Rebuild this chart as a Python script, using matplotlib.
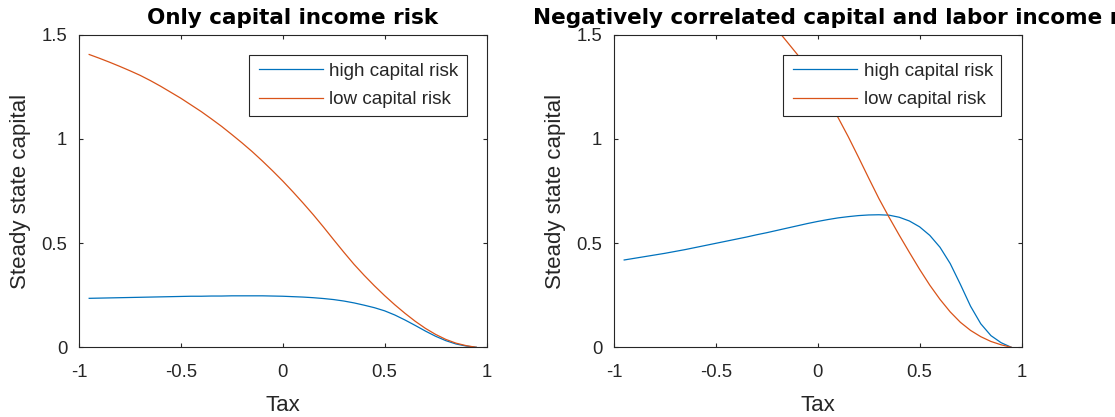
import matplotlib
matplotlib.use("Agg")
import matplotlib.pyplot as plt
from matplotlib.legend_handler import HandlerLine2D
from matplotlib.lines import Line2D

# Tax rate grid shared by every series
tax = [-0.95, -0.90, -0.85, -0.80, -0.75, -0.70, -0.65, -0.60, -0.55, -0.50,
       -0.45, -0.40, -0.35, -0.30, -0.25, -0.20, -0.15, -0.10, -0.05, 0.00,
       0.05, 0.10, 0.15, 0.20, 0.25, 0.30, 0.35, 0.40, 0.45, 0.50,
       0.55, 0.60, 0.65, 0.70, 0.75, 0.80, 0.85, 0.90, 0.95]

# Panel 1: only capital income risk
cap_only_high = [0.235, 0.236, 0.237, 0.238, 0.239, 0.240, 0.241, 0.242, 0.243, 0.244,
                 0.245, 0.245, 0.246, 0.246, 0.247, 0.247, 0.247, 0.247, 0.246, 0.245,
                 0.243, 0.241, 0.238, 0.234, 0.229, 0.222, 0.213, 0.202, 0.190, 0.175,
                 0.155, 0.131, 0.105, 0.078, 0.053, 0.032, 0.016, 0.006, 0.000]
cap_only_low = [1.405, 1.387, 1.368, 1.348, 1.327, 1.305, 1.280, 1.253, 1.224, 1.195,
                1.163, 1.131, 1.096, 1.060, 1.021, 0.981, 0.939, 0.894, 0.847, 0.798,
                0.746, 0.692, 0.636, 0.577, 0.516, 0.456, 0.398, 0.345, 0.295, 0.248,
                0.204, 0.163, 0.125, 0.091, 0.062, 0.038, 0.020, 0.008, 0.000]

# Panel 2: negatively correlated capital and labor income risk
neg_corr_high = [0.419, 0.427, 0.435, 0.443, 0.451, 0.460, 0.469, 0.479, 0.489, 0.499,
                 0.509, 0.519, 0.529, 0.540, 0.550, 0.561, 0.572, 0.583, 0.594, 0.604,
                 0.613, 0.621, 0.627, 0.632, 0.635, 0.636, 0.634, 0.624, 0.606, 0.578,
                 0.537, 0.480, 0.402, 0.302, 0.197, 0.113, 0.056, 0.022, 0.000]
neg_corr_low = [2.32, 2.28, 2.24, 2.20, 2.16, 2.11, 2.06, 2.01, 1.96, 1.90,
                1.84, 1.78, 1.72, 1.655, 1.59, 1.525, 1.465, 1.405, 1.338, 1.266,
                1.188, 1.102, 1.010, 0.912, 0.812, 0.714, 0.624, 0.538, 0.455, 0.374,
                0.298, 0.230, 0.170, 0.120, 0.081, 0.051, 0.028, 0.012, 0.000]

titles = ["Only capital income risk",
          "Negatively correlated capital and labor income risk"]
series_labels = ["high capital risk", "low capital risk"]
x_ticks = [-1, -0.5, 0, 0.5, 1]
y_ticks = [0, 0.5, 1, 1.5]
x_ticklabels = ["-1", "-0.5", "0", "0.5", "1"]
y_ticklabels = ["0", "0.5", "1", "1.5"]

BLUE = "#0072BD"
ORANGE = "#D95319"
INK = "#262626"
FONT = "Liberation Sans"

W, H = 1115, 417
fig = plt.figure(figsize=(W / 100, H / 100), dpi=100)

# (left edge px, high series, low series, title, title start in axes coords, legend right edge)
panels = [
    (79, cap_only_high, cap_only_low, titles[0], 0.166, 0.951),
    (614, neg_corr_high, neg_corr_low, titles[1], -0.199, 0.949),
]

for left_px, high, low, title, title_x, leg_x in panels:
    ax = fig.add_axes([left_px / W, (H - 347.3) / H, 407.5 / W, 312.6 / H])
    ax.plot(tax, high, color=BLUE, lw=0.9, label=series_labels[0])
    ax.plot(tax, low, color=ORANGE, lw=0.9, label=series_labels[1])
    ax.set_xlim(-1, 1)
    ax.set_ylim(0, 1.5)
    ax.set_xticks(x_ticks)
    ax.set_xticklabels(x_ticklabels)
    ax.set_yticks(y_ticks)
    ax.set_yticklabels(y_ticklabels)
    for sp in ax.spines.values():
        sp.set_color(INK)
        sp.set_linewidth(0.8)
    ax.tick_params(axis="both", direction="in", length=3, width=0.8,
                   colors=INK, top=True, right=True, labelsize=13.3)
    ax.tick_params(axis="x", pad=12)
    ax.tick_params(axis="y", pad=8.5)
    for lab in ax.get_xticklabels() + ax.get_yticklabels():
        lab.set_fontfamily(FONT)
    ax.set_xlabel("Tax", fontsize=16, family=FONT, color=INK, labelpad=10)
    ax.set_ylabel("Steady state capital", fontsize=16, family=FONT, color=INK,
                  labelpad=7.5)
    ax.set_title(title, fontsize=15.5, family="DejaVu Sans", fontweight="bold",
                 color="black", pad=7.5, x=title_x, ha="left")
    leg = ax.legend(loc="upper right", bbox_to_anchor=(leg_x, 0.936),
                    borderaxespad=0, fancybox=False, framealpha=1,
                    edgecolor=INK, prop={"family": FONT, "size": 13.6},
                    handlelength=3.5, handletextpad=0.35, borderpad=0.42,
                    labelspacing=0.6,
                    handler_map={Line2D: HandlerLine2D(xpad=0.14)})
    leg.get_frame().set_linewidth(0.8)
    for t in leg.get_texts():
        t.set_color(INK)

fig.savefig("out.png", dpi=100)
